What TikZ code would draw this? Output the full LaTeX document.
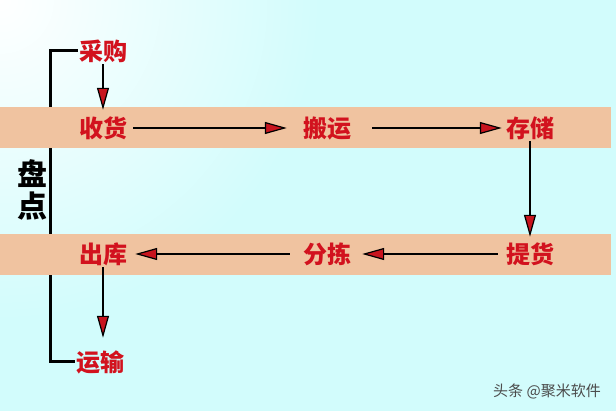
\documentclass[tikz,border=0pt]{standalone}
\usepackage{fontspec}
\newfontfamily\cjk{Noto Sans CJK SC}[BoldFont={* Black}]
\usetikzlibrary{arrows.meta}
\definecolor{bgc}{RGB}{210,252,252}
\definecolor{bandc}{RGB}{240,195,160}
\definecolor{txtred}{RGB}{210,18,30}
\definecolor{arrred}{RGB}{200,20,30}
\definecolor{wmgray}{RGB}{75,75,75}
\pgfdeclarelayer{bg}
\pgfdeclarelayer{line}
\pgfdeclarelayer{band}
\pgfsetlayers{bg,line,band,main}
\tikzset{
  stage/.style={font=\cjk\bfseries\fontsize{24}{26}\selectfont, text=txtred, inner sep=0pt, minimum width=50pt, minimum height=26pt},
  arr/.style={line width=2.8pt, draw=black, -{Triangle[length=22pt,width=12pt,fill=arrred,line width=1.2pt]}},
  bracketline/.style={line width=3pt, draw=black},
  band/.style={fill=bandc, draw=none},
}
\begin{document}
\begin{tikzpicture}[x=1pt,y=-1pt]
\useasboundingbox (0,0) rectangle (616,411);
% nodes
\node[stage] (caigou) at (103,51) {采购};
\node[stage] (shouhuo) at (103,128) {收货};
\node[stage] (banyun) at (327,128) {搬运};
\node[stage] (cunchu) at (530,128) {存储};
\node[stage] (tihuo) at (530,254) {提货};
\node[stage] (fenjian) at (327,254) {分拣};
\node[stage] (chuku) at (103,254) {出库};
\node[stage] (yunshu) at (100,362) {运输};
\node[font=\cjk\bfseries\fontsize{30}{32}\selectfont, align=center, inner sep=0pt] (pandian) at (32,190) {盘\\点};
\node[font=\cjk\fontsize{15}{17}\selectfont, text=wmgray, inner sep=0pt] (wm) at (547,391) {头条 @聚米软件};
% arrows
\draw[arr, shorten >=5pt] (caigou) -- (shouhuo);
\draw[arr, shorten <=5pt, shorten >=15pt] (shouhuo) -- (banyun);
\draw[arr, shorten <=20pt, shorten >=3pt] (banyun) -- (cunchu);
\draw[arr, shorten >=4pt] (cunchu) -- (tihuo);
\draw[arr, shorten <=7pt, shorten >=10pt] (tihuo) -- (fenjian);
\draw[arr, shorten <=12pt, shorten >=7pt] (fenjian) -- (chuku);
\draw[arr, shorten >=11pt] (chuku.south) -- (chuku.south |- yunshu.north);
% bracket
\begin{pgfonlayer}{line}
\draw[bracketline] (caigou.west) -- ++(-27,0) |- (yunshu.west);
\end{pgfonlayer}
% bands
\begin{pgfonlayer}{band}
\fill[band] (0,107) rectangle (611,148);
\fill[band] (0,234) rectangle (611,275);
\end{pgfonlayer}
% background
\begin{pgfonlayer}{bg}
\fill[bgc] (0,0) rectangle (616,411);
\begin{scope}
\clip (0,0) rectangle (616,411);
\shade[inner color=white, outer color=bgc] (0,0) circle (320);
\end{scope}
\end{pgfonlayer}
\end{tikzpicture}
\end{document}
